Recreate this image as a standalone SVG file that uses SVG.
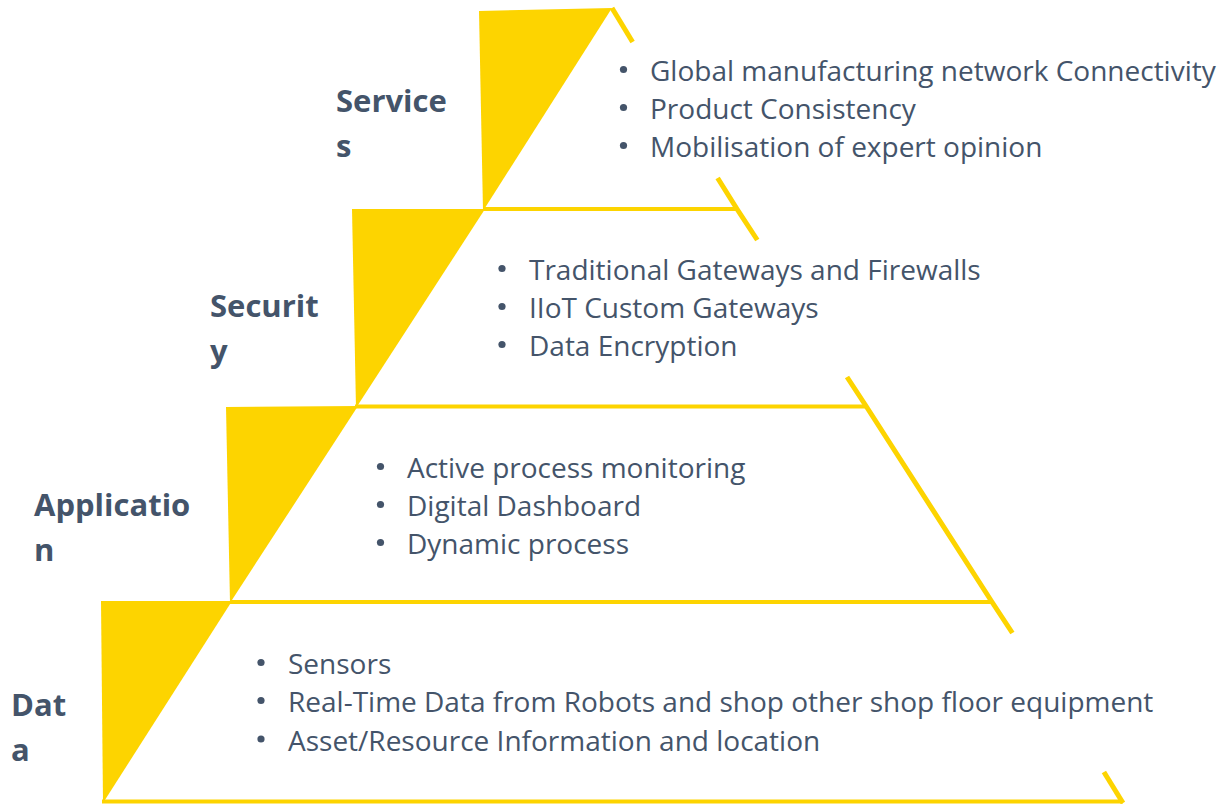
<svg xmlns="http://www.w3.org/2000/svg" width="1221" height="804" viewBox="0 0 1221 804">
<style>
.tri{fill:#FDD400;stroke:none}
.edge{stroke:#FDD400;stroke-width:5;fill:none;stroke-linecap:butt}
.hl{stroke:#FDD400;stroke-width:4;fill:none}
.lbl{font-family:"Open Sans","Liberation Sans",sans-serif;font-weight:bold;font-size:31px;fill:#44546A}
.item{font-family:"Open Sans","Liberation Sans",sans-serif;font-size:28px;fill:#44546A}
.dot{fill:#44546A}
</style>
<rect width="1221" height="804" fill="#FFFFFF"/>
<g id="connectors">
<line class="hl" x1="483" y1="209" x2="737" y2="209"/>
<line class="hl" x1="355" y1="406.5" x2="866" y2="406.5"/>
<line class="hl" x1="230" y1="602" x2="992" y2="602"/>
<line class="hl" x1="102" y1="801.5" x2="1123" y2="801.5"/>
<line class="edge" x1="612" y1="8" x2="632.6" y2="42"/>
<polyline class="edge" points="717.6,178 737,209 757.3,240"/>
<polyline class="edge" points="847,377 866,406 992,602 1012.4,633"/>
<line class="edge" x1="1103.9" y1="772" x2="1123" y2="803"/>
</g>
<g id="tier-services">
<polygon class="tri" points="479,11 612,8 483,211"/>
<text class="lbl" x="336" y="112">Service</text>
<text class="lbl" x="336" y="157">s</text>
<circle class="dot" cx="623.5" cy="69.5" r="3.6"/>
<circle class="dot" cx="623.5" cy="107.5" r="3.6"/>
<circle class="dot" cx="623.5" cy="145.5" r="3.6"/>
<text class="item" x="650" y="81">Global manufacturing network Connectivity</text>
<text class="item" x="650" y="119">Product Consistency</text>
<text class="item" x="650" y="157">Mobilisation of expert opinion</text>
</g>
<g id="tier-security">
<polygon class="tri" points="352,209 485,209 356,408"/>
<text class="lbl" x="210" y="317">Securit</text>
<text class="lbl" x="210" y="362">y</text>
<circle class="dot" cx="502" cy="268.5" r="3.6"/>
<circle class="dot" cx="502" cy="306.5" r="3.6"/>
<circle class="dot" cx="502" cy="344.5" r="3.6"/>
<text class="item" x="529" y="280">Traditional Gateways and Firewalls</text>
<text class="item" x="529" y="318">IIoT Custom Gateways</text>
<text class="item" x="529" y="356">Data Encryption</text>
</g>
<g id="tier-application">
<polygon class="tri" points="226,407 358,406 230,603"/>
<text class="lbl" x="34" y="516">Applicatio</text>
<text class="lbl" x="34" y="561">n</text>
<circle class="dot" cx="380.5" cy="466.5" r="3.6"/>
<circle class="dot" cx="380.5" cy="504.5" r="3.6"/>
<circle class="dot" cx="380.5" cy="542.5" r="3.6"/>
<text class="item" x="407" y="478">Active process monitoring</text>
<text class="item" x="407" y="516">Digital Dashboard</text>
<text class="item" x="407" y="554">Dynamic process</text>
</g>
<g id="tier-data">
<polygon class="tri" points="101,601 232,601 103,803"/>
<text class="lbl" x="11" y="716">Dat</text>
<text class="lbl" x="11" y="761">a</text>
<circle class="dot" cx="261" cy="662.5" r="3.6"/>
<circle class="dot" cx="261" cy="700.5" r="3.6"/>
<circle class="dot" cx="261" cy="739" r="3.6"/>
<text class="item" x="288" y="674">Sensors</text>
<text class="item" x="288" y="712">Real-Time Data from Robots and shop other shop floor equipment</text>
<text class="item" x="288" y="751">Asset/Resource Information and location</text>
</g>
</svg>
